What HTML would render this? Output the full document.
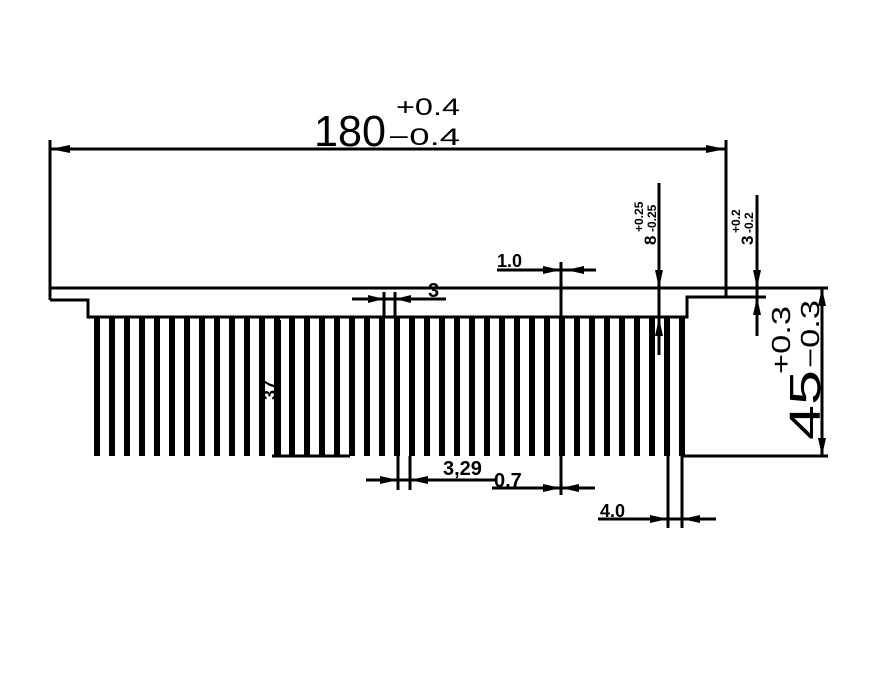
<!DOCTYPE html>
<html><head><meta charset="utf-8"><style>
html,body{margin:0;padding:0;background:#fff;}
svg{display:block;}
text{font-family:"Liberation Sans",sans-serif;fill:#000;}
</style></head><body>
<svg width="870" height="691" viewBox="0 0 870 691" xmlns="http://www.w3.org/2000/svg">
<defs>
<pattern id="fins" x="94" y="0" width="15" height="691" patternUnits="userSpaceOnUse">
<rect x="0" y="0" width="6" height="691" fill="#000"/>
</pattern>
</defs>
<g stroke="#000" stroke-width="3" fill="none">
<line x1="50" y1="140" x2="50" y2="300"/>
<line x1="726" y1="140" x2="726" y2="297"/>
<line x1="50" y1="149" x2="726" y2="149"/>
<line x1="50" y1="288" x2="828" y2="288"/>
<polyline points="50,300 88,300 88,317 687,317 687,297 766,297"/>
<line x1="822" y1="288" x2="822" y2="456"/>
<line x1="683" y1="456" x2="828" y2="456"/>
<line x1="272" y1="456" x2="350" y2="456"/>
<line x1="280" y1="320" x2="280" y2="456" stroke-width="2"/>
<line x1="497" y1="270" x2="596" y2="270"/>
<line x1="561" y1="262" x2="561" y2="495"/>
<line x1="352" y1="299" x2="446" y2="299"/>
<line x1="384" y1="292" x2="384" y2="316"/>
<line x1="395" y1="292" x2="395" y2="316"/>
<line x1="366" y1="480" x2="495" y2="480"/>
<line x1="398" y1="456" x2="398" y2="490"/>
<line x1="410" y1="456" x2="410" y2="490"/>
<line x1="492" y1="488" x2="595" y2="488"/>
<line x1="598" y1="519" x2="716" y2="519"/>
<line x1="668" y1="456" x2="668" y2="528"/>
<line x1="682" y1="456" x2="682" y2="528"/>
<line x1="659" y1="183" x2="659" y2="355"/>
<line x1="757" y1="195" x2="757" y2="336"/>
</g>
<rect x="94" y="317" width="592" height="139" fill="url(#fins)"/>
<g fill="#000">
<polygon points="50,149 70,145 70,153"/>
<polygon points="726,149 706,145 706,153"/>
<polygon points="822,288 818,306 826,306"/>
<polygon points="822,456 818,438 826,438"/>
<polygon points="561,270 543,266 543,274"/>
<polygon points="566,270 584,266 584,274"/>
<polygon points="384,299 368,295 368,303"/>
<polygon points="395,299 411,295 411,303"/>
<polygon points="398,480 380,476 380,484"/>
<polygon points="410,480 428,476 428,484"/>
<polygon points="561,488 543,484 543,492"/>
<polygon points="561,488 579,484 579,492"/>
<polygon points="668,519 650,515 650,523"/>
<polygon points="682,519 700,515 700,523"/>
<polygon points="659,288 655,270 663,270"/>
<polygon points="659,318 655,336 663,336"/>
<polygon points="757,288 753,270 761,270"/>
<polygon points="757,297 753,315 761,315"/>
</g>
<text x="314" y="146" font-size="44" textLength="72" lengthAdjust="spacingAndGlyphs">180</text>
<text x="396" y="115" font-size="24" textLength="64" lengthAdjust="spacingAndGlyphs">+0.4</text>
<text x="388" y="145" font-size="24" textLength="72" lengthAdjust="spacingAndGlyphs">−0.4</text>
<text x="497" y="267" font-size="18" font-weight="bold">1.0</text>
<text x="428" y="297" font-size="20" font-weight="bold">3</text>
<text x="443" y="475" font-size="20" font-weight="bold">3,29</text>
<text x="494" y="487" font-size="20" font-weight="bold">0.7</text>
<text x="600" y="517" font-size="18" font-weight="bold">4.0</text>
<text transform="translate(276,400) rotate(-90)" font-size="18" font-weight="bold">37</text>
<text transform="translate(656,245) rotate(-90)" font-size="17" font-weight="bold">8</text>
<text transform="translate(643,232) rotate(-90)" font-size="12" font-weight="bold">+0.25</text>
<text transform="translate(656,232) rotate(-90)" font-size="12" font-weight="bold">-0.25</text>
<text transform="translate(753,245) rotate(-90)" font-size="17" font-weight="bold">3</text>
<text transform="translate(740,233) rotate(-90)" font-size="12" font-weight="bold">+0.2</text>
<text transform="translate(753,233) rotate(-90)" font-size="12" font-weight="bold">-0.2</text>
<text transform="translate(820,440) rotate(-90)" font-size="44" textLength="70" lengthAdjust="spacingAndGlyphs">45</text>
<text transform="translate(790,374) rotate(-90)" font-size="26" textLength="68" lengthAdjust="spacingAndGlyphs">+0.3</text>
<text transform="translate(819,368) rotate(-90)" font-size="26" textLength="68" lengthAdjust="spacingAndGlyphs">−0.3</text>
</svg>
</body></html>
